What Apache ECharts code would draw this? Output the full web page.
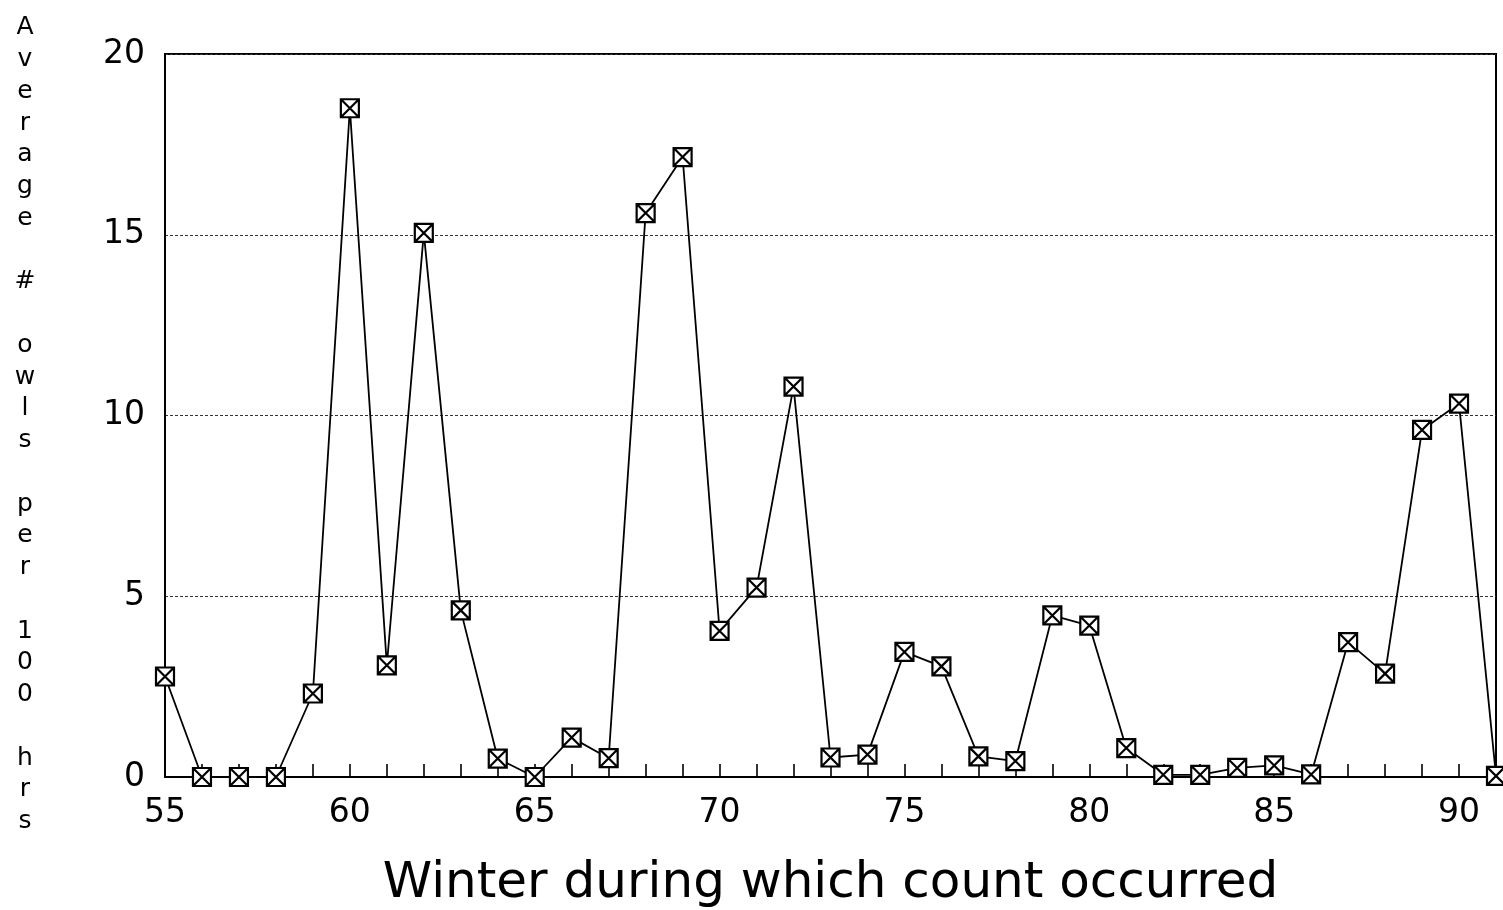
<!DOCTYPE html>
<html>
<head>
<meta charset="utf-8">
<title>Owls per 100 hrs</title>
<script src="https://cdn.jsdelivr.net/npm/echarts@6/dist/echarts.min.js"></script>
<style>
  html, body { margin: 0; padding: 0; background: #fff; }
  #chart { width: 1503px; height: 910px; }
</style>
</head>
<body>
<div id="chart"></div>
<script>
// winters 55..91 and average owls per 100 hrs
const winters = [55, 56, 57, 58, 59, 60, 61, 62, 63, 64, 65, 66, 67, 68, 69, 70, 71, 72,
  73, 74, 75, 76, 77, 78, 79, 80, 81, 82, 83, 84, 85, 86, 87, 88, 89, 90, 91];
const owls = [2.78, 0, 0, 0, 2.31, 18.5, 3.09, 15.05, 4.61, 0.51, 0, 1.09, 0.52, 15.6, 17.15, 4.04, 5.24, 10.8,
  0.54, 0.62, 3.46, 3.06, 0.57, 0.44, 4.47, 4.19, 0.8, 0.06, 0.06, 0.25, 0.32, 0.07, 3.73, 2.86, 9.6, 10.33, 0.03];
const yTicks = [0, 5, 10, 15, 20];
const yTitle = "Average # owls per 100 hrs";

const chart = echarts.init(document.getElementById("chart"));

const font = "DejaVu Sans";
// square with an X through it
const boxX = "path://M0,0L10,0L10,10L0,10Z M0,0L10,10 M10,0L0,10";

const option = {
  backgroundColor: "#fff",
  animation: false,
  grid: {
    left: 165,
    right: 7,
    top: 54,
    bottom: 133,
    outerBoundsMode: "none",
    show: true,
    borderColor: "#000",
    borderWidth: 2,
  },
  xAxis: {
    type: "value",
    min: 55,
    max: 91,
    interval: 1,
    name: "Winter during which count occurred",
    nameLocation: "middle",
    nameGap: 82,
    nameTextStyle: { fontFamily: font, fontSize: 50, color: "#000" },
    axisLine: { lineStyle: { color: "#000", width: 2 } },
    axisTick: { inside: true, length: 13, lineStyle: { color: "#000", width: 1.6 } },
    axisLabel: {
      fontFamily: font,
      fontSize: 33,
      color: "#000",
      margin: 20,
      formatter: (v) => (v % 5 === 0 ? String(v) : ""),
    },
    splitLine: { show: false },
  },
  yAxis: {
    type: "value",
    min: yTicks[0],
    max: yTicks[yTicks.length - 1],
    interval: 5,
    axisLine: { show: true, lineStyle: { color: "#000", width: 2 } },
    axisTick: { show: false },
    axisLabel: { fontFamily: font, fontSize: 33, color: "#000", margin: 20 },
    splitLine: { show: true, lineStyle: { color: "#333", width: 1, type: [3, 2] } },
  },
  graphic: [
    {
      type: "text",
      x: 25,
      y: 12,
      style: {
        text: yTitle.split(" ").map((w) => w.split("").join("\n")).join("\n\n"),
        fontFamily: font,
        fontSize: 25,
        lineHeight: 31.75,
        fill: "#000",
        textAlign: "center",
        textVerticalAlign: "top",
      },
    },
  ],
  series: [
    {
      type: "line",
      data: winters.map((w, i) => [w, owls[i]]),
      symbol: boxX,
      symbolSize: 18,
      showAllSymbol: true,
      clip: false,
      lineStyle: { color: "#000", width: 1.8 },
      itemStyle: { color: "#fff", borderColor: "#000", borderWidth: 2.2 },
      z: 5,
    },
  ],
};

chart.setOption(option);
</script>
</body>
</html>
